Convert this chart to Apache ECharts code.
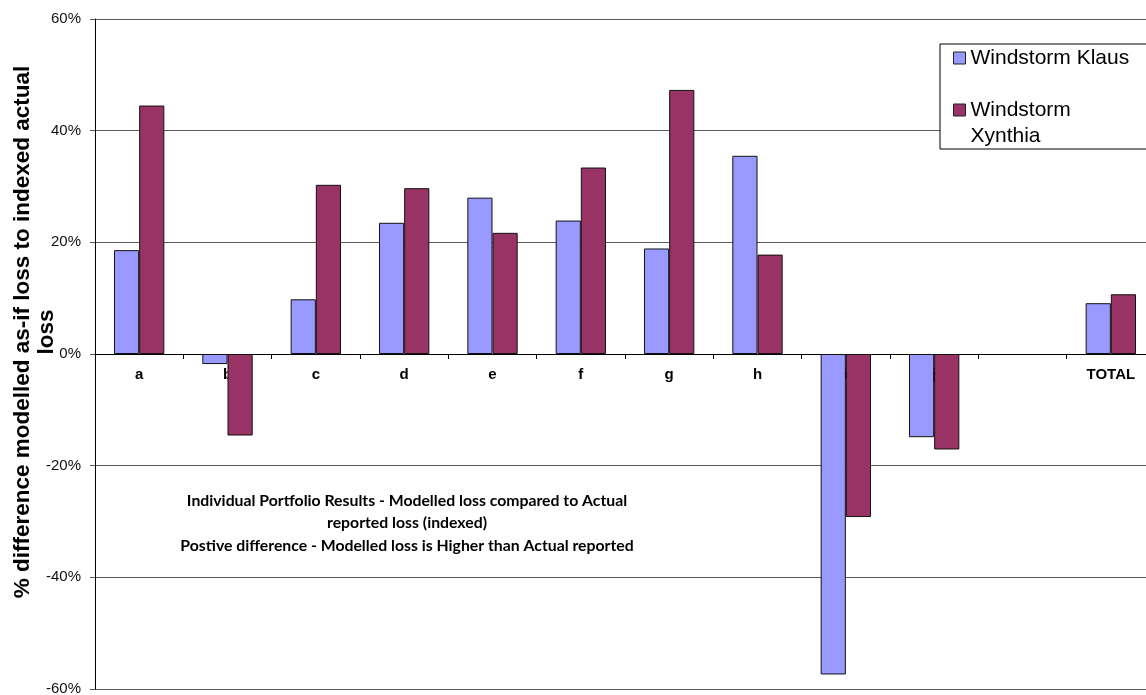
<!DOCTYPE html>
<html>
<head>
<meta charset="utf-8">
<style>
  html, body { margin: 0; padding: 0; background: #fff; overflow: hidden; }
  #chart { width: 1160px; height: 695px; }
</style>
<script src="https://cdn.jsdelivr.net/npm/echarts@6/dist/echarts.min.js"></script>
</head>
<body>
<div id="chart"></div>
<script>
// Portfolio categories along the x axis (one empty slot before the total)
const categories = ['a', 'b', 'c', 'd', 'e', 'f', 'g', 'h', 'i', 'j', '', 'TOTAL'];

// % difference of modelled as-if loss vs indexed actual loss
const klaus   = [18.6, -1.8,  9.8, 23.5, 28.0, 23.9, 18.9, 35.5, -57.4, -14.9, null,  9.1];
const xynthia = [44.5, -14.6, 30.3, 29.7, 21.7, 33.4, 47.3, 17.8, -29.2, -17.1, null, 10.7];

const seriesNames = ['Windstorm Klaus', 'Windstorm Xynthia'];
const yTicks = { min: -60, max: 60, step: 20 };

const axisTitle = '% difference modelled as-if loss to indexed actual\nloss';
const noteLines = [
  'Individual Portfolio Results - Modelled loss compared to Actual',
  'reported loss (indexed)',
  'Postive difference - Modelled loss is Higher than Actual reported'
];

// Plot box
const GRID = { left: 95, top: 19, width: 1060, height: 670 };
// The category axis sits on the 0% line; shift it up from the grid bottom
const zeroOffset = -GRID.height * (0 - yTicks.min) / (yTicks.max - yTicks.min);

const chart = echarts.init(document.getElementById('chart'), null, { renderer: 'canvas' });

const barStyle = (color) => ({ color: color, borderColor: '#111', borderWidth: 1 });

chart.setOption({
  animation: false,
  backgroundColor: '#ffffff',
  textStyle: { fontFamily: 'Liberation Sans, Arial, sans-serif' },
  grid: Object.assign({ containLabel: false, outerBoundsMode: 'none' }, GRID),
  legend: {
    orient: 'vertical',
    left: 940,
    top: 44,
    padding: [1, 30, 0, 13],
    itemGap: 0,
    itemWidth: 12,
    itemHeight: 12,
    icon: 'rect',
    selectedMode: false,
    borderColor: '#000',
    borderWidth: 1,
    backgroundColor: '#fff',
    itemStyle: { borderColor: '#222', borderWidth: 1 },
    textStyle: { fontSize: 21, color: '#000', lineHeight: 26, fontFamily: 'Liberation Sans, Arial, sans-serif' },
    data: seriesNames,
    // wrap the second entry under its swatch: first text line level with the icon
    formatter: (name) => name === seriesNames[1] ? '\nWindstorm\nXynthia' : name
  },
  xAxis: {
    type: 'category',
    data: categories,
    position: 'bottom',
    offset: zeroOffset,
    z: 1,
    axisLine: { onZero: false, lineStyle: { color: '#000', width: 1 } },
    axisTick: { show: true, length: 5, inside: false, lineStyle: { color: '#000' } },
    axisLabel: {
      interval: 0,
      margin: 13,
      fontSize: 15,
      fontWeight: 'bold',
      color: '#000',
      fontFamily: 'Liberation Sans, Arial, sans-serif'
    },
    splitLine: { show: false }
  },
  yAxis: {
    type: 'value',
    min: yTicks.min,
    max: yTicks.max,
    interval: yTicks.step,
    axisLine: { show: true, lineStyle: { color: '#000', width: 1 } },
    axisTick: { show: true, length: 5, inside: false, lineStyle: { color: '#555' } },
    axisLabel: {
      formatter: '{value}%',
      margin: 14,
      fontSize: 15,
      color: '#111',
      fontFamily: 'Liberation Sans, Arial, sans-serif'
    },
    splitLine: { show: true, lineStyle: { color: '#5a5a5a', width: 1 } }
  },
  series: [
    {
      name: seriesNames[0],
      type: 'bar',
      data: klaus,
      barGap: '0%',
      barCategoryGap: '43%',
      itemStyle: barStyle('#9999ff')
    },
    {
      name: seriesNames[1],
      type: 'bar',
      data: xynthia,
      barGap: '0%',
      barCategoryGap: '43%',
      itemStyle: barStyle('#993366')
    }
  ],
  graphic: [
    {
      type: 'text',
      x: 35,
      y: 332,
      rotation: Math.PI / 2,
      style: {
        text: axisTitle,
        align: 'center',
        verticalAlign: 'middle',
        font: 'bold 22.5px "Liberation Sans", Arial, sans-serif',
        lineHeight: 24,
        fill: '#000'
      }
    },
    {
      type: 'text',
      x: 407,
      y: 523,
      style: {
        text: noteLines.join('\n'),
        align: 'center',
        verticalAlign: 'middle',
        font: 'bold 15.8px Lato, "Open Sans", sans-serif',
        lineHeight: 22.5,
        fill: '#000'
      }
    }
  ]
});
</script>
</body>
</html>
